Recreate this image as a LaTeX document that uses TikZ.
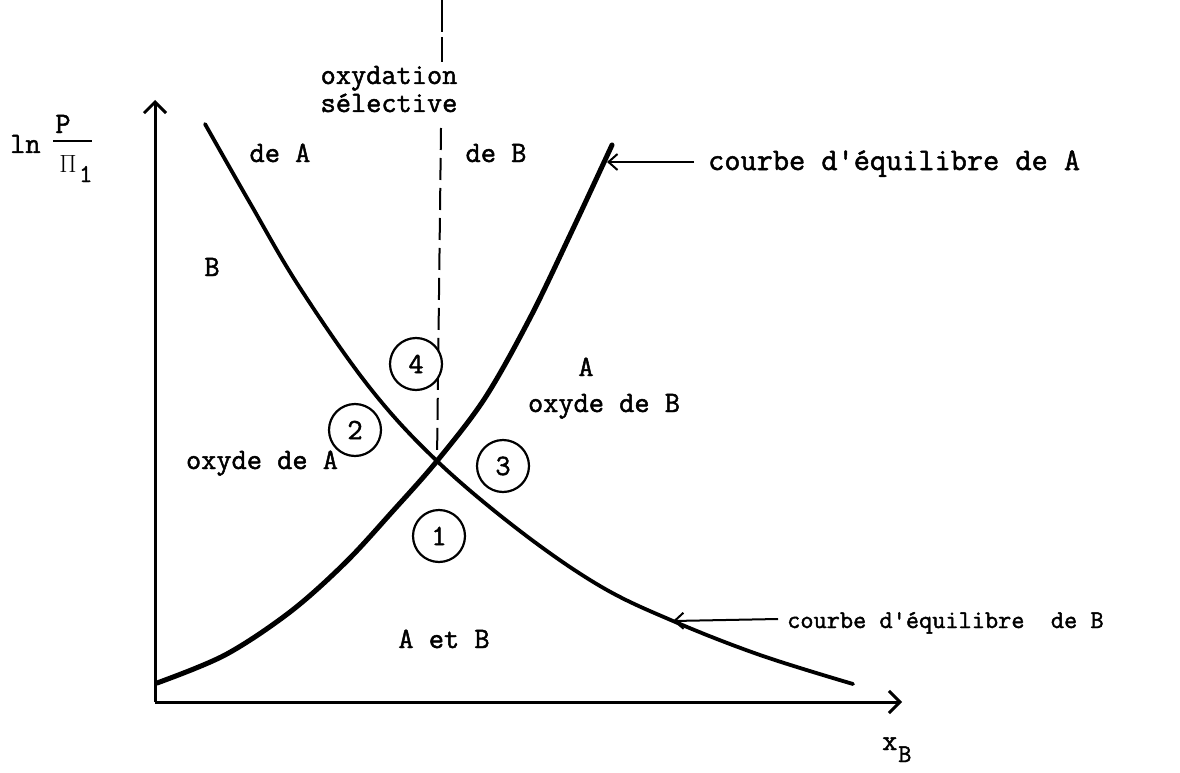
\documentclass[tikz,border=0pt]{standalone}
\usepackage{fontspec}
\newfontfamily\tw{Latin Modern Mono}[FakeBold=1.6]
\usetikzlibrary{arrows.meta}
\begin{document}
\begin{tikzpicture}[x=1pt,y=-1pt,
  lbl/.style={font=\tw\fontsize{29.5}{24}\selectfont, inner sep=0pt},
  lblA/.style={font=\tw\fontsize{31.4}{26}\selectfont, inner sep=0pt},
  lblB/.style={font=\tw\fontsize{25.6}{22}\selectfont, inner sep=0pt},
  axis/.style={line width=3pt, -{Straight Barb[length=11pt,width=22pt]}},
  eqA/.style={line width=5pt, line cap=round, line join=round},
  eqB/.style={line width=3.8pt, line cap=round, line join=round},
  sel/.style={line width=2pt, dash pattern=on 22pt off 8pt},
  ptr/.style={line width=2pt, -{Straight Barb[length=9pt,width=16pt]}},
  num/.style={circle, draw, line width=2.2pt, fill=white, minimum size=52pt, inner sep=0pt, font=\tw\fontsize{29.5}{24}\selectfont}]
\useasboundingbox (0,0) rectangle (1180,773);
% axes
\coordinate (O) at (155,702);
\coordinate (Ytop) at (155,100);
\coordinate (Xend) at (902,702);
\draw[axis] (O) -- (Ytop);
\draw[axis] (O) -- (Xend);
% dashed selective oxidation line
\coordinate (D0) at (442,0);
\coordinate (D1) at (442,62);
\coordinate (D2) at (441,128);
\coordinate (X) at (437,461);
\draw[line width=2pt, dash pattern=on 32pt off 5pt] (D0) -- (D1);
\draw[sel] (D2) -- (X);
% equilibrium curves
\draw[eqB] plot[smooth, tension=0.6] coordinates {(205,124) (250,203) (300,288) (370,388) (437,461) (520,531) (600,586) (673,621) (760,655) (853,684)};
\draw[eqA] plot[smooth, tension=0.55] coordinates {(157,683) (225,655) (290,612) (345,563) (392,512) (437,461) (485,398) (530,318) (571,233) (612,145)};
% labels
\node[lbl, anchor=base west] (ln) at (10,153) {ln};
\node[lbl, anchor=base] (P) at (63,133) {P};
\coordinate (bar0) at (53,141);
\coordinate (bar1) at (92,141);
\draw[line width=2pt] (bar0) -- (bar1);
\node[lbl, anchor=base] (Pi) at (68,172) {$\Pi$};
\node[lblB, anchor=base west] (Pi1) at (79,182) {1};
\node[lbl, anchor=base] (ox) at (389,84) {oxydation};
\node[lbl, anchor=base] (sel) at (389,112) {sélective};
\node[lbl, anchor=base] (deA) at (280,162) {de A};
\node[lbl, anchor=base] (deB) at (496,162) {de B};
\node[lbl, anchor=base] (B) at (212,276) {B};
\node[lbl, anchor=base] (A) at (586,376) {A};
\node[lbl, anchor=base] (oxB) at (604,412) {oxyde de B};
\node[lbl, anchor=base] (oxA) at (262,469) {oxyde de A};
\node[lbl, anchor=base] (AetB) at (444,648) {A et B};
% circled numbers
\node[num] (n4) at (416,364) {4};
\node[num] (n2) at (355,430) {2};
\node[num] (n3) at (503,466) {3};
\node[num] (n1) at (439,536) {1};
% pointers
\node[lblA, anchor=base west] (cA) at (708,170) {courbe d'équilibre de A};
\coordinate (tA) at (607,162);
\coordinate (sA) at (694,162);
\draw[ptr] (sA) -- (tA);
\node[lblB, anchor=base west] (cB) at (787,628) {courbe d'équilibre\ \ de B};
\coordinate (tB) at (673,621);
\coordinate (sB) at (778,619);
\draw[ptr] (sB) -- (tB);
% x axis label
\node[lbl, anchor=base west] (xl) at (882,750) {x};
\node[lblB, anchor=base west] (xs) at (898,762) {B};
\end{tikzpicture}
\end{document}
